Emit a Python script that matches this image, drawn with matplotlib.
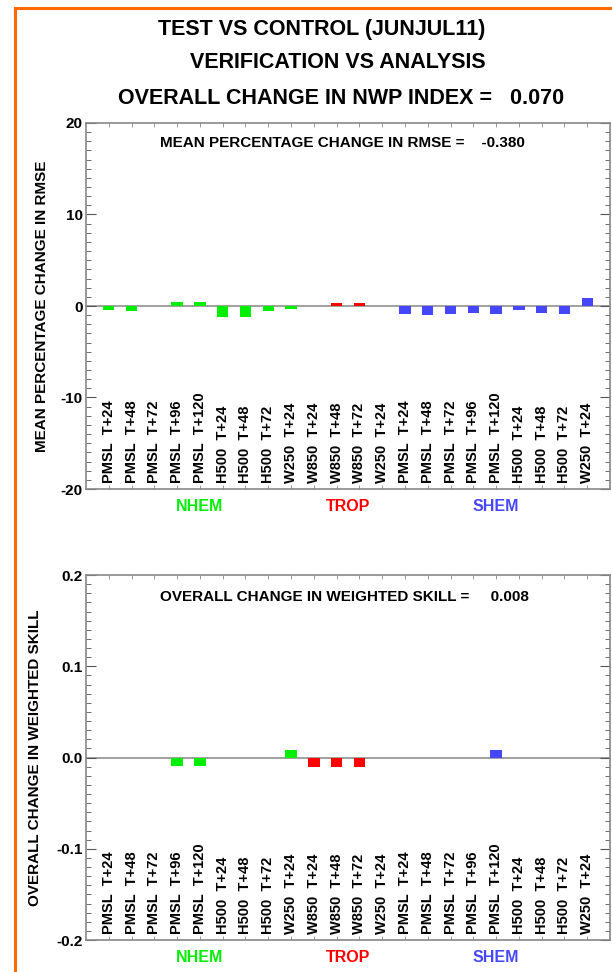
import matplotlib
matplotlib.use('Agg')
import matplotlib.pyplot as plt
from matplotlib.lines import Line2D
from matplotlib.ticker import MultipleLocator, FixedLocator
import numpy as np

plt.rcParams['font.family'] = ['Liberation Sans', 'DejaVu Sans']
plt.rcParams['font.weight'] = 'bold'

# categories (fields and forecast lead times)
labels = ['PMSL  T+24', 'PMSL  T+48', 'PMSL  T+72', 'PMSL  T+96', 'PMSL  T+120',
          'H500  T+24', 'H500  T+48', 'H500  T+72', 'W250  T+24',
          'W850  T+24', 'W850  T+48', 'W850  T+72', 'W250  T+24',
          'PMSL  T+24', 'PMSL  T+48', 'PMSL  T+72', 'PMSL  T+96', 'PMSL  T+120',
          'H500  T+24', 'H500  T+48', 'H500  T+72', 'W250  T+24']
regions = ['NHEM'] * 9 + ['TROP'] * 4 + ['SHEM'] * 9

# mean percentage change in rmse
rmse_change = [-0.45, -0.55, -0.05, 0.45, 0.45, -1.25, -1.25, -0.55, -0.35,
               -0.05, 0.38, 0.38, -0.05,
               -0.9, -1.0, -0.9, -0.75, -0.85, -0.45, -0.8, -0.85, 0.9]

# overall change in weighted skill
skill_change = [0.0, 0.0, 0.0, -0.0095, -0.0095, 0.0, 0.0, 0.0, 0.0085,
                -0.0105, -0.0105, -0.0105, 0.0,
                0.0, 0.0, 0.0, 0.0, 0.0085, 0.0, 0.0, 0.0, 0.0]

region_names = ['NHEM', 'TROP', 'SHEM']
region_colors = {'NHEM': '#00ee00', 'TROP': '#ff0000', 'SHEM': '#4646ff'}

title_lines = ['TEST VS CONTROL (JUNJUL11)', 'VERIFICATION VS ANALYSIS',
               'OVERALL CHANGE IN NWP INDEX =   0.070']
rmse_text = 'MEAN PERCENTAGE CHANGE IN RMSE =    -0.380'
skill_text = 'OVERALL CHANGE IN WEIGHTED SKILL =     0.008'

fig = plt.figure(figsize=(6.12, 9.72), dpi=100)

# orange frame on left and top
fig.add_artist(Line2D([15 / 612, 15 / 612], [0, 1 - 8 / 972], color='#ff6a00', lw=2.2))
fig.add_artist(Line2D([15 / 612, 1], [1 - 8 / 972, 1 - 8 / 972], color='#ff6a00', lw=2.2))

title_y = [29, 63, 99]
title_x = [322, 338, 341]
for t, yy, xx in zip(title_lines, title_y, title_x):
    fig.text(xx / 612, 1 - yy / 972, t, ha='center', va='center', fontsize=15.5, weight='bold')

x = np.arange(1, len(labels) + 1)
colors = [region_colors[r] for r in regions]
# region name sits under the middle of its group of bars
region_label_x = [x[[r == n for r in regions]].mean() for n in region_names]


def panel(rect, values, ylim, major, minor, fmt, ylabel, note, note_y, ylabel_x):
    ax = fig.add_axes(rect)
    ax.axhline(0, color='#999999', lw=1.3, zorder=1)
    ax.bar(x, values, width=0.5, color=colors, zorder=2)
    ax.set_xlim(0, len(labels) + 1)
    ax.set_ylim(*ylim)
    ax.yaxis.set_major_locator(MultipleLocator(major))
    ax.yaxis.set_minor_locator(MultipleLocator(minor))
    ax.yaxis.set_major_formatter(plt.FuncFormatter(lambda v, p: fmt.format(v)))
    ax.xaxis.set_major_locator(FixedLocator(list(x)))
    ax.set_xticklabels([])
    ax.tick_params(axis='y', which='major', direction='in', length=7, width=0.8, pad=2.5,
                   right=True, labelsize=11, colors='#555555', labelcolor='black')
    ax.tick_params(axis='y', which='minor', direction='in', length=3.5, width=0.6,
                   right=True, colors='#555555')
    ax.tick_params(axis='x', which='major', direction='in', length=3, width=0.6,
                   top=True, colors='#888888')
    for lab in ax.get_yticklabels():
        lab.set_fontweight('bold')
    for s in ax.spines.values():
        s.set_color('#888888')
        s.set_linewidth(1.2)
    for xi, lab in zip(x, labels):
        ax.text(xi, 0.016, lab, rotation=90, ha='center', va='bottom', fontsize=10.5,
                weight='bold', transform=ax.get_xaxis_transform())
    for name, xx in zip(region_names, region_label_x):
        ax.text(xx, -0.048, name, ha='center', va='center', fontsize=11.5, weight='bold',
                color=region_colors[name], transform=ax.get_xaxis_transform())
    ax.text(0.141, note_y, note, ha='left', va='center', fontsize=11, weight='bold',
            transform=ax.transAxes)
    fig.text(ylabel_x / 612, rect[1] + rect[3] / 2, ylabel, rotation=90, ha='center',
             va='center', fontsize=11, weight='bold')
    return ax


panel([86 / 612, 1 - 489 / 972, 524 / 612, 366 / 972], rmse_change, (-20, 20), 10, 1,
      '{:.0f}', 'MEAN PERCENTAGE CHANGE IN RMSE', rmse_text, 0.945, 42)
panel([86 / 612, 1 - 940 / 972, 524 / 612, 365 / 972], skill_change, (-0.2, 0.2), 0.1, 0.01,
      '{:.1f}', 'OVERALL CHANGE IN WEIGHTED SKILL', skill_text, 0.94, 35)

fig.savefig('out.png', dpi=100)
